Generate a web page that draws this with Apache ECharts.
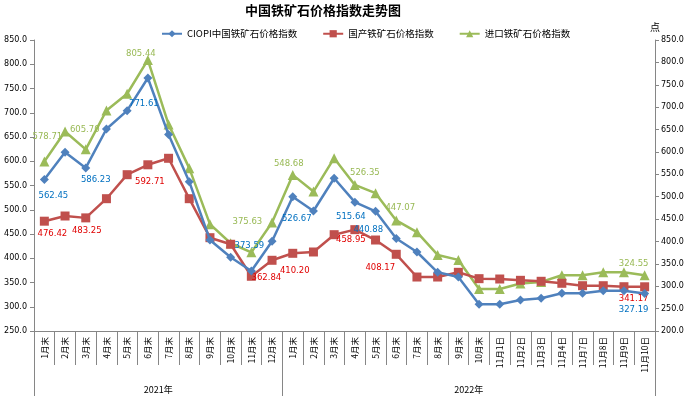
<!DOCTYPE html>
<html>
<head>
<meta charset="utf-8">
<script src="https://cdn.jsdelivr.net/npm/echarts@6/dist/echarts.min.js"></script>
<style>html,body{margin:0;padding:0;background:#fff}#c{width:688px;height:396px}</style>
</head>
<body>
<div id="c"></div>
<script>
const categories = ['1月末','2月末','3月末','4月末','5月末','6月末','7月末','8月末','9月末','10月末','11月末','12月末',
  '1月末','2月末','3月末','4月末','5月末','6月末','7月末','8月末','9月末','10月末',
  '11月1日','11月2日','11月3日','11月4日','11月7日','11月8日','11月9日','11月10日'];
const yearLabels = ['2021年','2022年'];
const yearBounds = [0, 12, 30];
const ciopi = [562.45,618.5,586.23,666.5,704.3,771.61,655.0,557.9,437.6,402.0,373.59,435.0,
  526.67,497.4,564.9,515.64,496.8,440.88,412.9,371.0,361.3,305.0,305.0,314.0,317.4,327.7,327.7,333.1,333.1,327.19];
const domestic = [476.42,487.1,483.25,522.8,572.3,592.71,606.1,522.8,442.4,428.8,362.84,395.8,
  410.20,412.9,448.6,458.95,437.6,408.17,361.3,361.3,371.0,357.9,357.2,354.5,352.5,348.4,343.4,343.4,341.3,341.17];
const imported = [578.71,645.6,605.70,692.6,730.0,805.44,661.5,563.8,438.6,396.0,375.63,442.2,
  548.68,511.5,586.1,526.35,507.9,447.07,420.7,369.9,358.8,293.9,293.9,306.0,309.6,324.5,324.5,331.2,331.2,324.55];
const leftTicks = {min:250, max:850, step:50};
const rightTicks = {min:200, max:850, step:50};
const seriesNames = ['CIOPI中国铁矿石价格指数','国产铁矿石价格指数','进口铁矿石价格指数'];

// label placement (center offsets in px) for labelled points
const ciopiLab = {0:[9,16],2:[10,12],5:[-4,26],10:[-2,-25],12:[4,22],15:[-4,15],17:[-28,-9],29:[-11,16]};
const domLab = {0:[8,13],2:[1,13],5:[2,17],10:[15,2],12:[2,17],15:[-4,10],17:[-16,14],29:[-11,12]};
const impLab = {0:[3,-25],2:[-1,-20],5:[-7,-6],10:[-4,-31],12:[-4,-11],15:[10,-12],17:[4,-13],29:[-11,-11]};

const numFont = 'DejaVu Sans';
const cjk = '"Noto Sans CJK SC", sans-serif';

function build(vals, labs, color) {
  return vals.map((v, i) => {
    const o = {value: v};
    if (labs[i]) {
      o.label = {show: true, position: 'inside', offset: labs[i], color: color,
        fontSize: 8.5, fontFamily: numFont, formatter: p => p.value.toFixed(2)};
    }
    return o;
  });
}

const chart = echarts.init(document.getElementById('c'), null, {renderer: 'canvas'});
const axisGray = '#868686';
chart.setOption({
  animation: false,
  backgroundColor: '#fff',
  title: {text: '中国铁矿石价格指数走势图', left: 245, top: 4, padding: 0,
    textStyle: {fontFamily: cjk, fontSize: 13, fontWeight: 'bold', color: '#000'}},
  legend: {left: 161, top: 29, itemGap: 25, itemWidth: 20, itemHeight: 9, padding: 0,
    textStyle: {fontFamily: cjk, fontSize: 9.5, color: '#000'},
    data: seriesNames},
  grid: {left: 34, right: 33, top: 40, bottom: 65, containLabel: false},
  xAxis: [{
    type: 'category', data: categories, position: 'bottom',
    axisLine: {lineStyle: {color: axisGray}},
    axisTick: {show: true, interval: 0, length: 34, lineStyle: {color: axisGray}},
    axisLabel: {interval: 0, rotate: 90, margin: 6, fontSize: 8.5, fontFamily: cjk, color: '#000'}
  }, {
    type: 'value', min: yearBounds[0], max: yearBounds[2], position: 'bottom',
    axisLine: {show: false}, splitLine: {show: false},
    axisTick: {show: true, customValues: yearBounds, length: 65, lineStyle: {color: axisGray}},
    axisLabel: {show: true, customValues: [(yearBounds[0]+yearBounds[1])/2, (yearBounds[1]+yearBounds[2])/2],
      margin: 54, fontSize: 9, fontFamily: cjk, color: '#000',
      formatter: v => (v < yearBounds[1] ? yearLabels[0] : yearLabels[1])}
  }],
  yAxis: [{
    type: 'value', min: leftTicks.min, max: leftTicks.max, interval: leftTicks.step, position: 'left',
    axisLine: {show: true, lineStyle: {color: axisGray}},
    axisTick: {show: true, length: 4, lineStyle: {color: axisGray}},
    splitLine: {show: false},
    axisLabel: {margin: 7, fontSize: 8, fontFamily: numFont, color: '#000', formatter: v => v.toFixed(1)}
  }, {
    type: 'value', min: rightTicks.min, max: rightTicks.max, interval: rightTicks.step, position: 'right',
    name: '点', nameLocation: 'end', nameGap: 8,
    nameTextStyle: {fontFamily: cjk, fontSize: 10, color: '#000', align: 'center'},
    axisLine: {show: true, lineStyle: {color: axisGray}},
    axisTick: {show: true, length: 4, lineStyle: {color: axisGray}},
    splitLine: {show: false},
    axisLabel: {margin: 6, fontSize: 8, fontFamily: numFont, color: '#000', formatter: v => v.toFixed(1)}
  }],
  series: [{
    name: seriesNames[0], type: 'line', yAxisIndex: 0, data: build(ciopi, ciopiLab, '#0070C0'),
    symbol: 'diamond', symbolSize: 9, showAllSymbol: true, color: '#4F81BD',
    lineStyle: {width: 2.5, color: '#4F81BD'}, itemStyle: {color: '#4F81BD'}, z: 3
  }, {
    name: seriesNames[1], type: 'line', yAxisIndex: 0, data: build(domestic, domLab, '#E00000'),
    symbol: 'rect', symbolSize: 9, showAllSymbol: true, color: '#C0504D',
    lineStyle: {width: 2.5, color: '#C0504D'}, itemStyle: {color: '#C0504D'}, z: 2
  }, {
    name: seriesNames[2], type: 'line', yAxisIndex: 1, data: build(imported, impLab, '#98B954'),
    symbol: 'triangle', symbolSize: 10, showAllSymbol: true, color: '#9BBB59',
    lineStyle: {width: 2.5, color: '#9BBB59'}, itemStyle: {color: '#9BBB59'}, z: 1
  }]
});
</script>
</body>
</html>
